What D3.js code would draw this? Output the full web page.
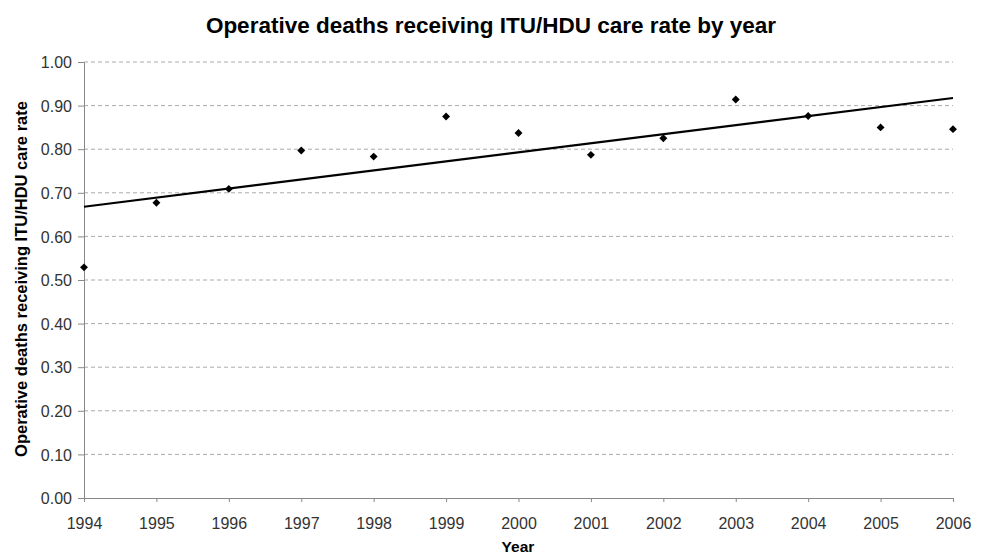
<!DOCTYPE html>
<html><head><meta charset="utf-8">
<script src="https://cdn.jsdelivr.net/npm/d3@7"></script>
<style>body{margin:0;background:#fff;} svg{display:block;font-family:"Liberation Sans",Arial,sans-serif;}</style>
</head><body>
<svg id="c" width="987" height="556"></svg>
<script>
const years = [1994,1995,1996,1997,1998,1999,2000,2001,2002,2003,2004,2005,2006];
const rates = [0.529,0.677,0.709,0.797,0.783,0.875,0.837,0.787,0.825,0.914,0.876,0.850,0.846];
const yTicks = [0,0.1,0.2,0.3,0.4,0.5,0.6,0.7,0.8,0.9,1.0];
const title = "Operative deaths receiving ITU/HDU care rate by year";
const yLabel = "Operative deaths receiving ITU/HDU care rate";
const xLabel = "Year";

const svg = d3.select("#c");
const L=84, R=953, T=62, B=498;
const x = d3.scaleLinear().domain([1994,2006]).range([L,R]);
const y = d3.scaleLinear().domain([0,1]).range([B,T]);

// gridlines
svg.append("g").selectAll("line").data(yTicks.filter(d=>d>0)).join("line")
  .attr("x1",L).attr("x2",R).attr("y1",d=>y(d)).attr("y2",d=>y(d))
  .attr("stroke","#aaa").attr("stroke-width",1).attr("stroke-dasharray","4,3");

// axes
const ya = svg.append("g").attr("transform",`translate(${L},0)`)
  .call(d3.axisLeft(y).tickValues(yTicks).tickFormat(d3.format(".2f")).tickSize(6).tickPadding(6));
const xa = svg.append("g").attr("transform",`translate(0,${B})`)
  .call(d3.axisBottom(x).tickValues(years).tickFormat(d3.format("d")).tickSize(4).tickPadding(16));
[ya,xa].forEach(a=>{
  a.selectAll("path,line").attr("stroke","#888");
  a.selectAll("text").attr("font-size",16).attr("fill","#333");
});
ya.selectAll("text").attr("dy","0.35em");

// trendline (least squares)
const mx = d3.mean(years), my = d3.mean(rates);
const slope = d3.sum(years.map((v,i)=>(v-mx)*(rates[i]-my)))/d3.sum(years.map(v=>(v-mx)*(v-mx)));
const icpt = my - slope*mx;
svg.append("line")
  .attr("x1",x(1994)).attr("y1",y(icpt+slope*1994))
  .attr("x2",x(2006)).attr("y2",y(icpt+slope*2006))
  .attr("stroke","#000").attr("stroke-width",2.2);

// points
svg.append("g").selectAll("path").data(years).join("path")
  .attr("d",d3.symbol(d3.symbolDiamond2,40))
  .attr("transform",(d,i)=>`translate(${x(d)},${y(rates[i])})`)
  .attr("fill","#000");

svg.append("text").attr("x",491).attr("y",33).attr("text-anchor","middle")
  .attr("font-size",22.5).attr("font-weight","bold").text(title);
svg.append("text").attr("x",518).attr("y",552).attr("text-anchor","middle")
  .attr("font-size",15.5).attr("font-weight","bold").text(xLabel);
svg.append("text").attr("transform",`translate(27,279) rotate(-90)`).attr("text-anchor","middle")
  .attr("font-size",16.5).attr("font-weight","bold").text(yLabel);
</script>
</body></html>
